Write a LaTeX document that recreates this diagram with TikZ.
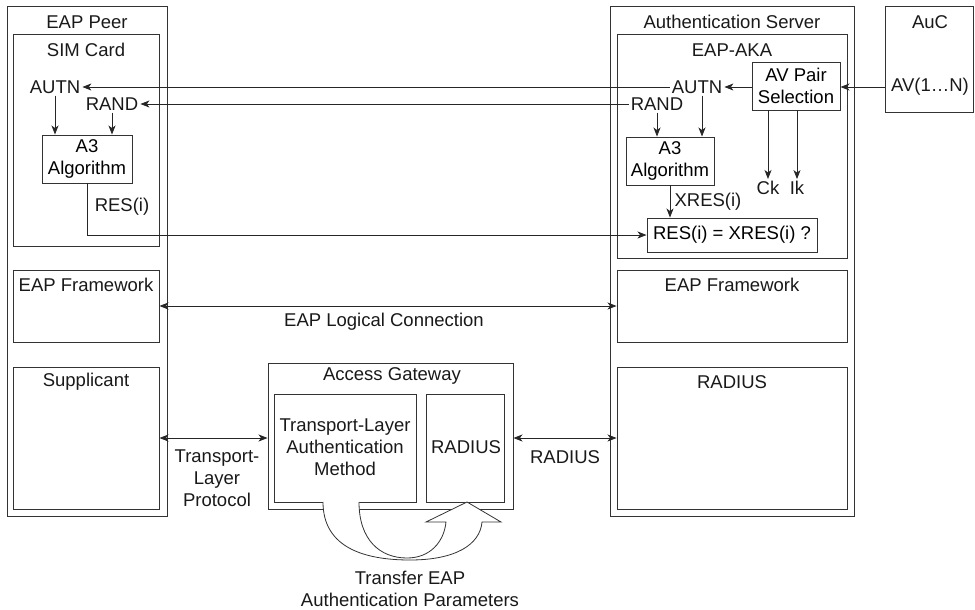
\documentclass[tikz,border=0pt]{standalone}
\usepackage{fontspec}
\setmainfont{Liberation Sans}
\usetikzlibrary{arrows.meta,fit,calc}

\begin{document}
\begin{tikzpicture}[x=1pt,y=-1pt,
    font=\fontsize{18.5pt}{22pt}\selectfont,
    box/.style={draw=black!80, line width=0.95pt, inner sep=0pt},
    lbl/.style={inner sep=2pt, text=black!90},
    tip/.tip={Stealth[length=9pt,width=7pt,inset=2.5pt]},
    arr/.style={draw=black!85, line width=0.85pt, -tip},
    darr/.style={draw=black!85, line width=0.85pt, tip-tip}]

    \useasboundingbox (0,0) rectangle (975,610);

    % EAP peer: outer box and its three layers
    \node[box, fit={(7,6) (167,516)}] (peer) {};
    \node[box, fit={(13,34) (159,246)}] (sim) {};
    \node[box, fit={(13,270) (159,342)}] (peerFw) {};
    \node[box, fit={(13,367) (159,509)}] (supp) {};
    \node[lbl] (peerT) at (87,22) {EAP Peer};
    \node[lbl] (simT) at (86,50) {SIM Card};
    \node[lbl] (peerFwT) at (86,285) {EAP Framework};
    \node[lbl] (suppT) at (86,382) {Supplicant};

    % inside the SIM card
    \node[lbl] (autnP) at (55,87) {AUTN};
    \node[lbl] (randP) at (112,104) {RAND};
    \node[box, minimum width=90pt, minimum height=48pt, align=center] (peerA3) at (87,159) {A3\\Algorithm};
    \node[lbl] (resP) at (122,207) {RES(i)};

    % authentication server
    \node[box, fit={(610,6) (854,516)}] (server) {};
    \node[box, fit={(617,34) (847,258)}] (aka) {};
    \node[box, fit={(617,270) (847,342)}] (srvFw) {};
    \node[box, fit={(617,367) (847,509)}] (srvRad) {};
    \node[lbl] (serverT) at (732,22) {Authentication Server};
    \node[lbl] (akaT) at (732,50) {EAP-AKA};
    \node[lbl] (srvFwT) at (732,285) {EAP Framework};
    \node[lbl] (srvRadT) at (732,382) {RADIUS};

    % inside EAP-AKA
    \node[lbl] (autnS) at (697,87) {AUTN};
    \node[lbl] (randS) at (657,104) {RAND};
    \node[box, minimum width=88pt, minimum height=48pt, align=center] (avSel) at (796,86) {AV Pair\\Selection};
    \node[box, minimum width=88pt, minimum height=48pt, align=center] (srvA3) at (670,161) {A3\\Algorithm};
    \node[lbl] (ck) at (768,188) {Ck};
    \node[lbl] (ik) at (797,188) {Ik};
    \node[lbl] (xres) at (708,202) {XRES(i)};
    \node[box, minimum width=170pt, minimum height=34pt] (cmp) at (732,235) {RES(i) = XRES(i) ?};

    % AuC
    \node[box, fit={(885,6) (973,112)}] (auc) {};
    \node[lbl] (aucT) at (930,22) {AuC};
    \node[lbl] (avN) at (930,87) {AV(1\ldots N)};

    % access gateway
    \node[box, fit={(268,363) (513,509)}] (gw) {};
    \node[box, fit={(274,394) (416,502)}] (tlam) {};
    \node[box, fit={(426,394) (504,502)}] (gwRad) {};
    \node[lbl] (gwT) at (392,376) {Access Gateway};
    \node[lbl, align=center] (tlamT) at (345,447) {Transport-Layer\\Authentication\\Method};
    \node[lbl] (gwRadT) at (466,447) {RADIUS};

    % connection labels
    \node[lbl] (logT) at (384,322) {EAP Logical Connection};
    \node[lbl, align=center] (tlpT) at (217,478) {Transport-\\Layer\\Protocol};
    \node[lbl] (radT) at (565,457) {RADIUS};
    \node[lbl, align=center] (xferT) at (410,589) {Transfer EAP\\Authentication Parameters};

    % challenge flow
    \draw[arr] (auc.west |- avN) -- (avSel.east |- avN);
    \draw[arr] (avSel.west |- autnS) -- (autnS.east);
    \draw[arr] (autnS.west) -- (autnP.east);
    \draw[arr] (randS.west) -- (randP.east);
    \draw[arr] (autnP.south) -- (autnP.south |- peerA3.north);
    \draw[arr] (randP.south) -- (randP.south |- peerA3.north);
    \draw[arr] (randS.south) -- (randS.south |- srvA3.north);
    \draw[arr] ([xshift=5pt]autnS.south) -- ([xshift=5pt]autnS.south |- srvA3.north);
    \draw[arr] (avSel.south -| ck.north) -- (ck.north);
    \draw[arr] (avSel.south -| ik.north) -- (ik.north);
    \draw[arr] (srvA3.south) -- (srvA3.south |- cmp.north);
    \draw[arr] (peerA3.south) |- (cmp.west);

    % protocol links
    \draw[darr] (peerFw.east) -- (srvFw.west);
    \draw[darr] (supp.east) -- (gw.west |- supp.east);
    \draw[darr] (gw.east |- supp.east) -- (srvRad.west |- supp.east);

    % transfer arrow (twisted band)
    \draw[draw=black!80, line width=0.8pt, fill=white]
        (323,502) .. controls (323,548) and (365,560) .. (410,560)
        .. controls (455,560) and (480,545) .. (482,522)
        -- (501,522) -- (467,502) -- (426,522) -- (446,522)
        .. controls (444,542) and (430,558) .. (407,558)
        .. controls (380,558) and (359,540) .. (359,502);
\end{tikzpicture}
\end{document}
